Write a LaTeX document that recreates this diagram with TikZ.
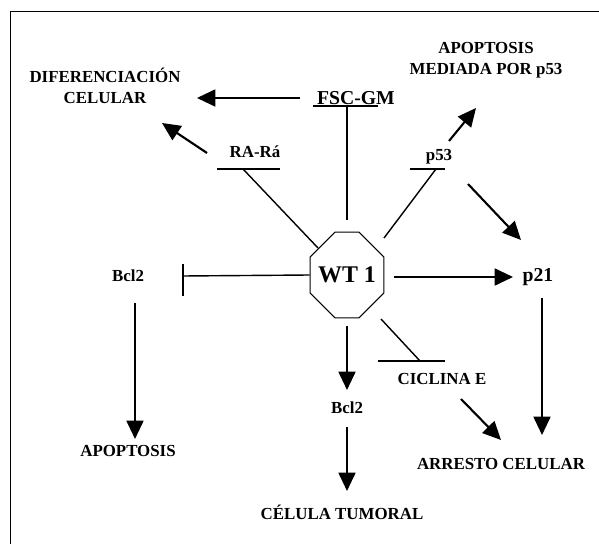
\documentclass[tikz,border=0pt]{standalone}
\usepackage{fontspec}
\setmainfont{Liberation Serif}
\usepackage{tikz}
\usetikzlibrary{positioning,calc}
\usetikzlibrary{arrows.meta}
\usetikzlibrary{shapes.misc}
\tikzset{>={Triangle[length=13pt,width=12pt]}}

\begin{document}
\begin{tikzpicture}[x=0.025cm,y=-0.025cm,
  lbl/.style={font=\bfseries\fontsize{12}{15}\selectfont,align=center,inner sep=1pt},
  biglbl/.style={lbl,font=\bfseries\fontsize{14}{16}\selectfont},
  octo/.style={draw,line width=0.7pt,chamfered rectangle,chamfered rectangle xsep=12pt,chamfered rectangle ysep=12pt,
    minimum width=46pt,minimum height=61pt,inner sep=0pt,font=\bfseries\fontsize{17}{18}\selectfont},
  act/.style={->,line width=1.5pt},
  inh/.style={line width=1pt}]
  \useasboundingbox (0,0) rectangle (599,544);
  \draw[line width=0.6pt] (10,544) -- (10,11) -- (599,11);

  % nodes
  \node[octo] (wt) at (347,275) {WT 1};
  \node[lbl] (dif) at (105,86) {DIFERENCIACIÓN\\CELULAR};
  \node[biglbl] (fsc) at (356,98) {FSC-GM};
  \node[lbl] (rara) at (255,152) {RA-Rá};
  \node[lbl] (apm) at (486,60) {APOPTOSIS\\MEDIADA POR p53};
  \node[lbl] (p53) at (439,157) {p53};
  \node[biglbl] (p21) at (538,277) {p21};
  \node[lbl] (bclL) at (128,276) {Bcl2};
  \node[lbl] (apo) at (128,451) {APOPTOSIS};
  \node[lbl] (bclB) at (347,408) {Bcl2};
  \node[lbl] (cic) at (442,379) {CICLINA E};
  \node[lbl] (arr) at (501,464) {ARRESTO CELULAR};
  \node[lbl] (tum) at (342,512) {CÉLULA TUMORAL};

  % activation
  \draw[act] ($(fsc)+(-56,0)$) -- ($(dif)+(92,12)$);
  \draw[act] ($(rara)+(-48,1)$) -- ($(dif)+(57,37)$);
  \draw[act] ($(p53)+(10,-16)$) -- ($(apm)+(-10,48)$);
  \draw[act] ($(p53)+(29,27)$) -- ($(p21)+(-17,-37)$);
  \draw[act] ($(wt)+(47,2)$) -- ($(p21)+(-25,0)$);
  \draw[act] ($(p21)+(4,21)$) -- ($(arr)+(41,-29)$);
  \draw[act] ($(bclL)+(7,27)$) -- ($(apo)+(7,-12)$);
  \draw[act] ($(wt)+(0,51)$) -- ($(bclB)+(0,-18)$);
  \draw[act] ($(bclB)+(0,19)$) -- ($(tum)+(5,-21)$);
  \draw[act] ($(cic)+(19,20)$) -- ($(arr)+(0,-24)$);

  % inhibition
  \draw[inh] ($(wt)+(0,-55)$) -- ($(fsc)+(-9,8)$);
  \draw[inh] ($(fsc)+(-43,8)$) -- ($(fsc)+(22,8)$);
  \draw[inh] ($(wt)+(-29,-27)$) -- ($(rara)+(-12,17)$);
  \draw[inh] ($(rara)+(-38,17)$) -- ($(rara)+(25,17)$);
  \draw[inh] ($(wt)+(37,-37)$) -- ($(p53)+(-3,12)$);
  \draw[inh] ($(p53)+(-29,12)$) -- ($(p53)+(6,12)$);
  \draw[inh] (wt.west) -- ($(bclL)+(55,0)$);
  \draw[inh] ($(bclL)+(55,-12)$) -- ($(bclL)+(55,20)$);
  \draw[inh] ($(wt)+(34,44)$) -- ($(cic)+(-22,-18)$);
  \draw[inh] ($(cic)+(-64,-18)$) -- ($(cic)+(3,-18)$);
\end{tikzpicture}
\end{document}
